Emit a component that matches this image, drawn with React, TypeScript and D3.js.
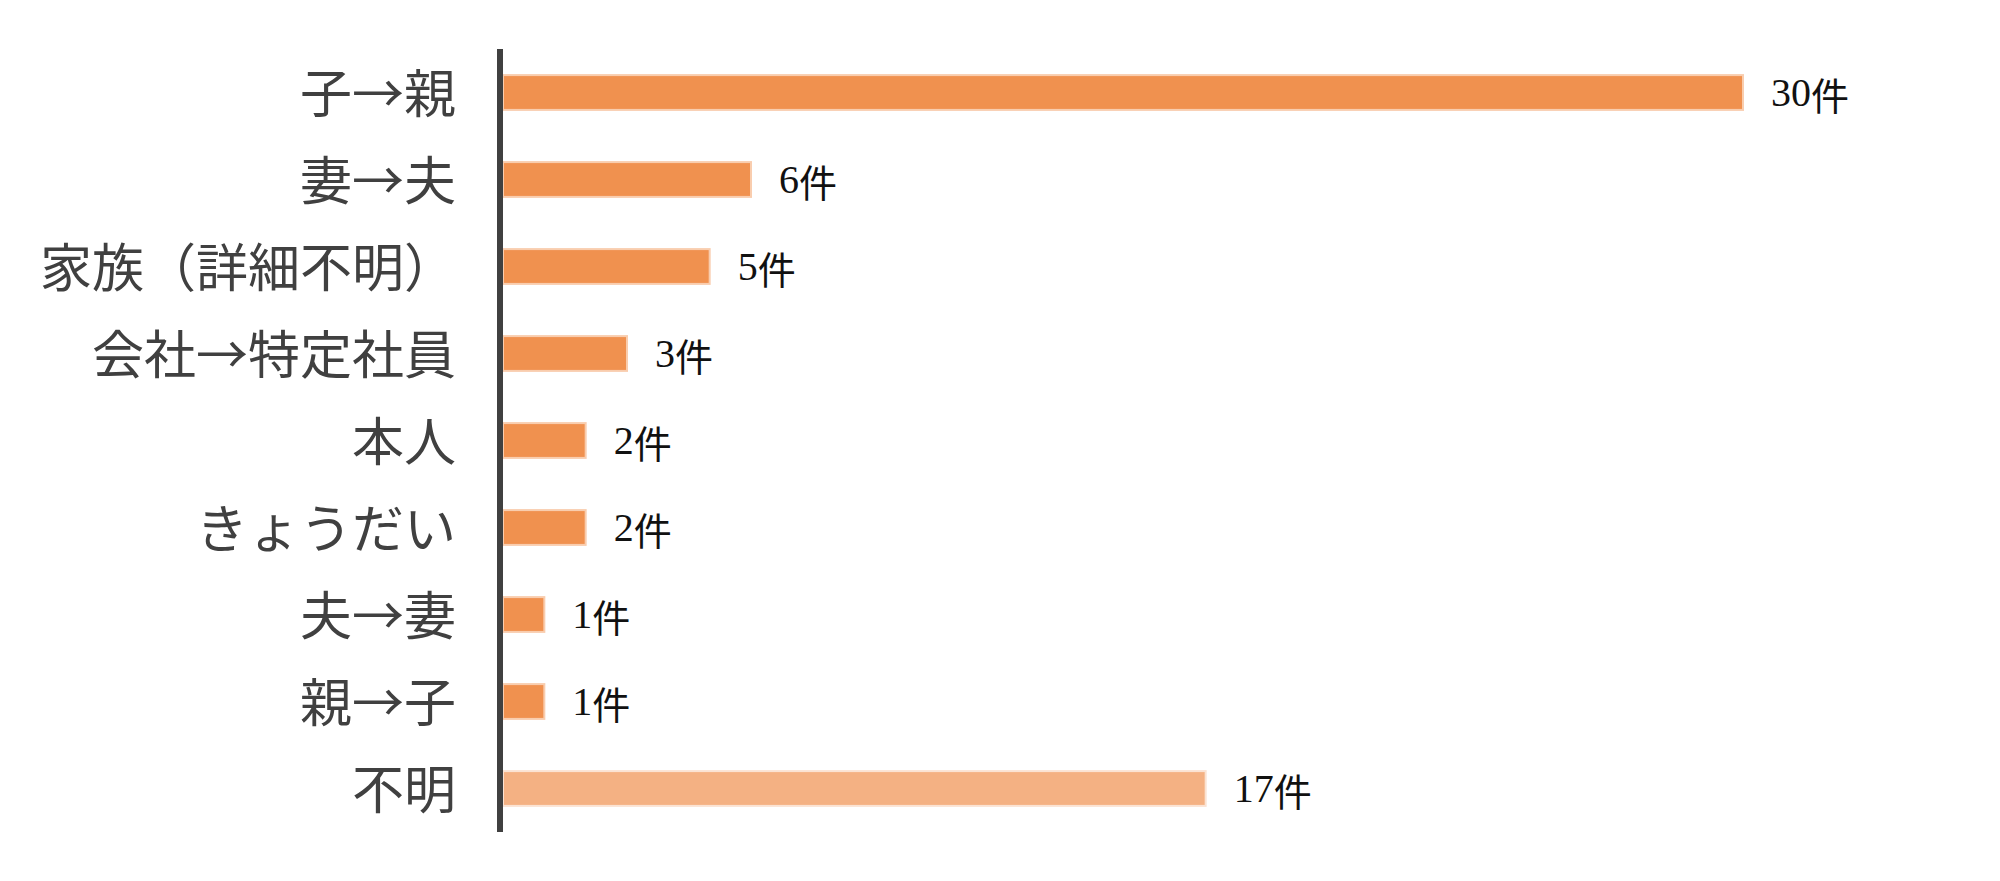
import React from "react";
import * as d3 from "d3";

const categories = ["子→親", "妻→夫", "家族（詳細不明）", "会社→特定社員", "本人", "きょうだい", "夫→妻", "親→子", "不明"];
const values = [30, 6, 5, 3, 2, 2, 1, 1, 17];
const unit = "件";
const highlight = [false, false, false, false, false, false, false, false, true];

const W = 2000;
const H = 881;

export default function App() {
  const axisX = 500;
  const x = d3.scaleLinear().domain([0, 30]).range([503, 1743]);
  const y = d3.scaleBand<string>().domain(categories).range([49, 832]).paddingInner(0.6).paddingOuter(0.3);

  return (
    <svg width={W} height={H} style={{ position: "absolute", left: 0, top: 0, background: "#fff" }}>
      {categories.map((c, i) => {
        const yy = y(c)!;
        const bw = y.bandwidth();
        const cy = yy + bw / 2;
        return (
          <g key={c}>
            <rect
              x={x(0)}
              y={yy}
              width={x(values[i]) - x(0)}
              height={bw}
              fill={highlight[i] ? "#F4B183" : "#F0914F"}
              stroke={highlight[i] ? "#FBE3D3" : "#F9CDAE"}
              strokeWidth={2}
            />
            <text
              x={456}
              y={cy - 2}
              textAnchor="end"
              dominantBaseline="central"
              fontFamily="'Noto Sans CJK JP', sans-serif"
              fontSize={52}
              fill="#404040"
            >
              {c}
            </text>
            <text
              x={x(values[i]) + 28}
              y={cy}
              dominantBaseline="central"
              fontFamily="'Liberation Serif', 'Noto Sans CJK JP', serif"
              fontSize={40}
              fill="#111"
            >
              {values[i]}
              <tspan fontFamily="'Noto Sans CJK JP', sans-serif" fontSize={38}>{unit}</tspan>
            </text>
          </g>
        );
      })}
      <line x1={axisX} x2={axisX} y1={49} y2={832} stroke="#404040" strokeWidth={6} />
    </svg>
  );
}
